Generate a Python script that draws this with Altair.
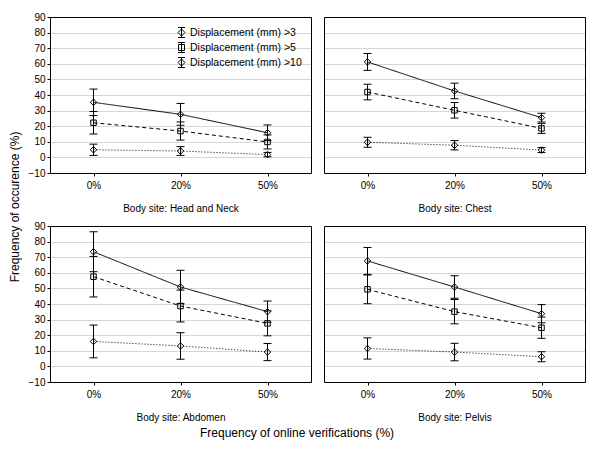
import altair as alt
import pandas as pd

FONT = "Liberation Sans"

freqs = ["0%", "20%", "50%"]
series_names = ["Displacement (mm) >3", "Displacement (mm) >5", "Displacement (mm) >10"]
panel_names = ["Head and Neck", "Chest", "Abdomen", "Pelvis"]

# rows: >3, >5, >10 ; columns: 0%, 20%, 50%
head_neck_mean = [[35.3, 27.6, 15.8], [22.2, 16.9, 9.9], [4.9, 4.1, 1.8]]
head_neck_err = [[8.5, 7.0, 5.0], [7.2, 5.8, 4.5], [3.6, 2.8, 1.4]]
chest_mean = [[61.2, 42.6, 25.5], [41.9, 30.2, 18.6], [9.7, 7.8, 4.7]]
chest_err = [[5.4, 5.0, 2.8], [5.0, 5.0, 3.2], [3.2, 3.0, 1.6]]
abdomen_mean = [[73.5, 50.9, 35.1], [57.5, 38.7, 27.6], [16.0, 13.1, 9.2]]
abdomen_err = [[12.8, 10.7, 6.8], [13.0, 10.2, 8.0], [10.5, 8.5, 5.5]]
pelvis_mean = [[67.6, 50.9, 33.8], [49.4, 35.1, 24.8], [11.5, 9.2, 6.2]]
pelvis_err = [[8.6, 7.2, 5.8], [9.2, 7.8, 6.8], [6.8, 5.6, 3.2]]

means = [head_neck_mean, chest_mean, abdomen_mean, pelvis_mean]
errs = [head_neck_err, chest_err, abdomen_err, pelvis_err]

rows = []
for p, name in enumerate(panel_names):
    for s, ser in enumerate(series_names):
        for f, fr in enumerate(freqs):
            m = means[p][s][f]
            e = errs[p][s][f]
            rows.append({"panel": name, "series": ser, "freq": fr,
                         "value": m, "lo": m - e, "hi": m + e})
df = pd.DataFrame(rows)

marker_shapes = ["diamond", "square", "diamond"]
marker_sizes = [42, 30, 42]
dash_range = [[1, 0], [4, 3], [1, 2]]
y_ticks = list(range(-10, 91, 10))
grid_ticks = list(range(0, 81, 10))

legend_paths = [
    "M0,-0.7L0.7,0L0,0.7L-0.7,0Z M0,-1V1 M-0.7,-1H0.7 M-0.7,1H0.7",
    "M-0.6,-0.6H0.6V0.6H-0.6Z M0,-1V1 M-0.7,-1H0.7 M-0.7,1H0.7",
    "M0,-0.7L0.7,0L0,0.7L-0.7,0Z M0,-1V1 M-0.7,-1H0.7 M-0.7,1H0.7",
]


def panel(name, show_y, with_legend):
    d = df[df["panel"] == name]
    base = alt.Chart(d)
    xscale = alt.Scale(type="point", domain=freqs, padding=0.5)
    yscale = alt.Scale(domain=[-10, 90], nice=False, zero=False)
    x = alt.X("freq:N", scale=xscale,
              axis=alt.Axis(title="Body site: " + name, labelAngle=0, grid=False,
                            domain=True, domainColor="black", tickSize=3,
                            labelPadding=4, titlePadding=13,
                            titleFontWeight="normal", titleFontSize=10))
    if show_y:
        yaxis = alt.Axis(title=None, values=y_ticks, tickCount=11, grid=False,
                         domain=True, domainColor="black", tickSize=3,
                         labelPadding=2, labelOverlap=False)
    else:
        yaxis = alt.Axis(title=None, values=y_ticks, tickCount=11, grid=False,
                         domain=True, domainColor="black", labels=False,
                         ticks=False)
    y = alt.Y("value:Q", scale=yscale, axis=yaxis)

    lines = base.mark_line(color="black", strokeWidth=1).encode(
        x=x, y=y,
        detail="series:N",
        strokeDash=alt.StrokeDash("series:N",
                                  scale=alt.Scale(domain=series_names, range=dash_range),
                                  legend=None),
    )
    rules = base.mark_rule(color="black", strokeWidth=1).encode(
        x=x, y=alt.Y("lo:Q", scale=yscale, axis=yaxis), y2="hi:Q")
    tick_lo = base.mark_tick(color="black", size=8, thickness=1, opacity=1,
                             orient="horizontal").encode(
        x=x, y=alt.Y("lo:Q", scale=yscale, axis=yaxis))
    tick_hi = base.mark_tick(color="black", size=8, thickness=1, opacity=1,
                             orient="horizontal").encode(
        x=x, y=alt.Y("hi:Q", scale=yscale, axis=yaxis))

    layers = [lines, rules, tick_lo, tick_hi]
    for ser, shp, sz in zip(series_names, marker_shapes, marker_sizes):
        layers.append(
            base.transform_filter(alt.datum.series == ser)
            .mark_point(shape=shp, size=sz, filled=False, color="black",
                        strokeWidth=1, opacity=1)
            .encode(x=x, y=y)
        )
    if with_legend:
        layers.append(
            base.mark_point(filled=False, size=100, color="black", strokeWidth=1)
            .encode(
                x=x, y=y,
                opacity=alt.value(0),
                shape=alt.Shape(
                    "series:N",
                    scale=alt.Scale(domain=series_names, range=legend_paths),
                    legend=alt.Legend(
                        title=None, orient="none", legendX=126, legendY=10,
                        padding=0, rowPadding=0, labelOffset=3,
                        symbolSize=100, symbolStrokeColor="black",
                        symbolStrokeWidth=1, symbolFillColor="transparent",
                        symbolOpacity=1, labelFont=FONT, labelFontSize=10.5,
                        labelColor="black",
                    ),
                ),
            )
        )
    main = alt.layer(*layers)

    frame = base.mark_point(opacity=0).encode(
        x=alt.X("freq:N", scale=xscale,
                axis=alt.Axis(orient="top", title=None, labels=False, ticks=False,
                              grid=False, domain=True, domainColor="black")),
        y=alt.Y("value:Q", scale=yscale,
                axis=alt.Axis(orient="right", title=None, labels=False, ticks=False,
                              values=grid_ticks, tickCount=9, grid=True,
                              gridColor="#d6d6d6", domain=True,
                              domainColor="black")),
    )
    return alt.layer(frame, main).resolve_axis(x="independent", y="independent") \
        .properties(width=261, height=156)


p1 = panel("Head and Neck", True, True)
p2 = panel("Chest", False, False)
p3 = panel("Abdomen", True, False)
p4 = panel("Pelvis", False, False)

grid = alt.concat(
    p1, p2, p3, p4, columns=2, spacing={"row": 53, "column": 13}, bounds="flush",
    title=alt.Title("Frequency of occurence (%)", orient="left", fontSize=12,
                    fontWeight="normal", font=FONT, offset=6, anchor="middle",
                    dx=10),
).resolve_scale(shape="independent").resolve_legend(shape="independent")

chart = alt.vconcat(
    grid,
    title=alt.Title("Frequency of online verifications (%)", orient="bottom",
                    fontSize=12, fontWeight="normal", font=FONT, offset=6,
                    anchor="middle"),
).properties(
    padding={"left": 1, "top": 4, "right": 5, "bottom": 5}
).configure(
    font=FONT,
).configure_view(
    stroke=None
).configure_axis(
    labelFont=FONT, titleFont=FONT, labelFontSize=10, labelColor="black",
    titleColor="black", tickColor="black",
).configure_title(
    color="black"
)

chart.save("out.html", embed_options={"renderer": "svg", "actions": False})
